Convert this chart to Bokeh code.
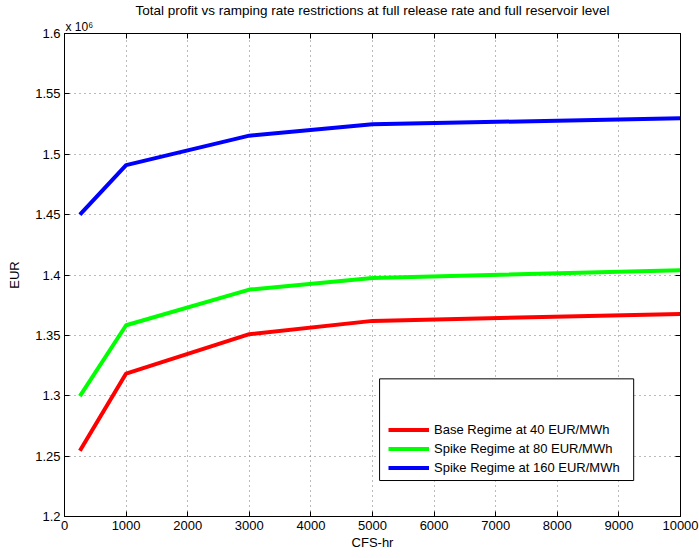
from bokeh.plotting import figure
from bokeh.models import (Range1d, LinearAxis, FixedTicker, CustomJSTickFormatter,
                          Legend, LegendItem, BoxAnnotation, Title)
from bokeh.embed import file_html
from bokeh.resources import INLINE

# ---- data ----
ramp_cfs_hr = [250, 1000, 3000, 5000, 10000]
base_40 = [1254500, 1318400, 1351000, 1362000, 1367800]
spike_80 = [1299700, 1358400, 1387900, 1397500, 1404000]
spike_160 = [1450000, 1491000, 1515400, 1524800, 1529800]
series_labels = ["Base Regime at 40 EUR/MWh", "Spike Regime at 80 EUR/MWh",
                 "Spike Regime at 160 EUR/MWh"]
series_colors = ["#ff0000", "#00ff00", "#0000ff"]
x_ticks = list(range(0, 10001, 1000))
y_ticks = [1200000 + 50000 * i for i in range(9)]

FONT = "Liberation Sans"

p = figure(width=699, height=558, output_backend="svg", toolbar_location=None,
           x_range=Range1d(0, 10000), y_range=Range1d(1.2e6, 1.6e6),
           min_border_left=64, min_border_right=19, min_border_top=31,
           min_border_bottom=42, x_axis_location=None, y_axis_location=None)

p.title.text = "Total profit vs ramping rate restrictions at full release rate and full reservoir level"
p.title.align = "center"
p.title.text_font = FONT
p.title.text_font_size = "13.5px"
p.title.text_font_style = "normal"
p.title.text_color = "black"
p.title.text_line_height = 1.0
p.title.standoff = 0

p.outline_line_color = "black"
p.outline_line_width = 1
p.background_fill_color = "white"
p.border_fill_color = "white"

yfmt = CustomJSTickFormatter(code="return (tick/1e6).toFixed(2).replace(/0$/, '').replace(/\\.0$/, '');")
blank = CustomJSTickFormatter(code="return '';")

def style_axis(ax, labels=True):
    ax.major_tick_in = 5
    ax.major_tick_out = 0
    ax.minor_tick_line_color = None
    ax.axis_line_color = "black"
    ax.major_tick_line_color = "black"
    ax.major_label_text_font = FONT
    ax.major_label_text_font_size = "13px"
    ax.major_label_text_color = "black"
    ax.axis_label_text_font = FONT
    ax.axis_label_text_font_size = "13px"
    ax.axis_label_text_font_style = "normal"
    ax.axis_label_text_color = "black"
    if not labels:
        ax.major_label_standoff = 0
        ax.formatter = blank

xb = LinearAxis(ticker=FixedTicker(ticks=x_ticks), axis_label="CFS-hr")
style_axis(xb)
xb.major_label_standoff = 4
xb.axis_label_standoff = 2
p.add_layout(xb, "below")

yl = LinearAxis(ticker=FixedTicker(ticks=y_ticks), formatter=yfmt, axis_label="EUR")
style_axis(yl)
yl.major_label_standoff = 4
yl.axis_label_standoff = 10
p.add_layout(yl, "left")

xa = LinearAxis(ticker=FixedTicker(ticks=x_ticks))
style_axis(xa, labels=False)
p.add_layout(xa, "above")
yr = LinearAxis(ticker=FixedTicker(ticks=y_ticks))
style_axis(yr, labels=False)
p.add_layout(yr, "right")

# exponent marker above the top-left corner of the axes
expo = Title(text="x 10\u2076", align="left", text_font=FONT, text_font_size="12px",
             text_font_style="normal", text_color="black", text_line_height=1.0,
             standoff=0, offset=1)
p.add_layout(expo, "above")

p.xgrid.ticker = FixedTicker(ticks=x_ticks)
p.ygrid.ticker = FixedTicker(ticks=y_ticks)
for g in (p.xgrid, p.ygrid):
    g.grid_line_color = "#777777"
    g.grid_line_dash = "1 4"
    g.grid_line_width = 1

renderers = []
for ys, c in zip([base_40, spike_80, spike_160], series_colors):
    r = p.line(ramp_cfs_hr, ys, line_color=c, line_width=4)
    renderers.append(r)

# legend frame (MATLAB style with blank top area)
box = BoxAnnotation(left=5115, right=9240, bottom=1229800, top=1314000,
                    fill_color="white", fill_alpha=1.0, line_color="black",
                    line_alpha=1.0, line_width=1, level="overlay")
p.add_layout(box)

legend = Legend(items=[LegendItem(label=l, renderers=[r]) for l, r in zip(series_labels, renderers)],
                location=(324, 39), orientation="vertical")
legend.border_line_color = None
legend.background_fill_alpha = 0
legend.padding = 0
legend.margin = 0
legend.spacing = 0
legend.glyph_width = 41
legend.glyph_height = 19
legend.label_height = 19
legend.label_standoff = 5
legend.label_text_font = FONT
legend.label_text_font_size = "13px"
legend.label_text_color = "black"
legend.level = "overlay"
p.add_layout(legend)

open("out.html", "w").write(file_html(p, INLINE))
